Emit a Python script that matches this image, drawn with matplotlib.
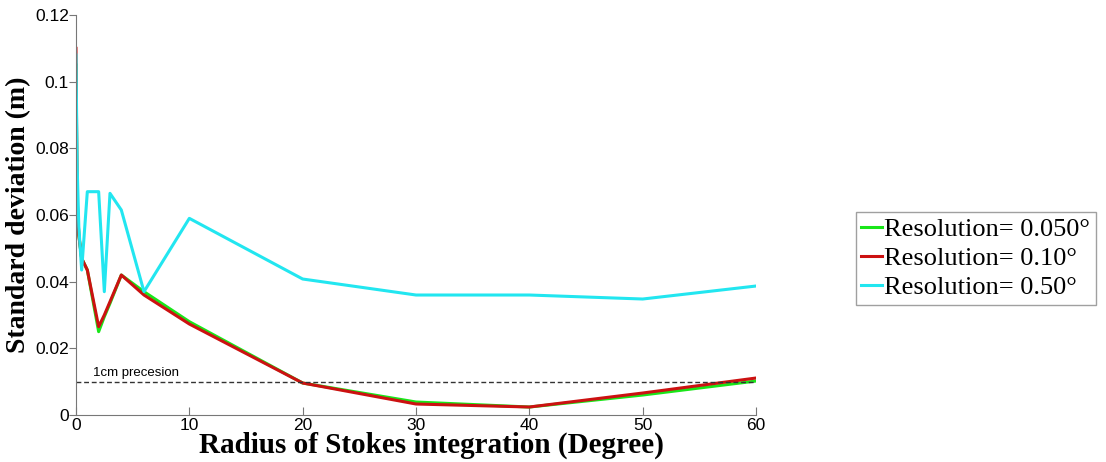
import matplotlib.pyplot as plt

# radius of Stokes integration (degree)
radius = [0, 0.1, 0.25, 0.5, 1, 2, 2.5, 3, 4, 6, 10, 20, 30, 40, 50, 60]

# standard deviation (m) for each grid resolution
std_005 = [0.105, 0.064, 0.054, 0.047, 0.0435, 0.025, 0.0295, 0.0335, 0.042, 0.037,
           0.028, 0.0096, 0.0039, 0.0024, 0.0060, 0.0102]
std_010 = [0.110, 0.065, 0.054, 0.047, 0.0435, 0.0265, 0.030, 0.034, 0.042, 0.036,
           0.0273, 0.0096, 0.0033, 0.0024, 0.0066, 0.0111]
std_050 = [0.108, 0.075, 0.0565, 0.0435, 0.067, 0.067, 0.037, 0.0665, 0.0615, 0.037,
           0.059, 0.0408, 0.036, 0.036, 0.0348, 0.0387]

labels = ['Resolution= 0.050°', 'Resolution= 0.10°', 'Resolution= 0.50°']
colors = ['#19e619', '#cc1111', '#22e6f0']

fig = plt.figure(figsize=(11.06, 4.62), dpi=100)
ax = fig.add_axes([0.0687, 0.1017, 0.6149, 0.8658])

for y, lab, c in zip([std_005, std_010, std_050], labels, colors):
    ax.plot(radius, y, color=c, linewidth=2.2, label=lab)

ax.axhline(0.01, color='#333333', linestyle='--', linewidth=1.0, dashes=(3.5, 2))
ax.text(1.5, 0.0117, '1cm precesion', fontsize=9.5, family='Liberation Sans')

ax.set_xlim(0, 60)
ax.set_ylim(0, 0.12)
ax.set_xticks([0, 10, 20, 30, 40, 50, 60])
ax.set_yticks([0, 0.02, 0.04, 0.06, 0.08, 0.1, 0.12])
ax.set_yticklabels(['0', '0.02', '0.04', '0.06', '0.08', '0.1', '0.12'])

for s in ['top', 'right']:
    ax.spines[s].set_visible(False)
for s in ['left', 'bottom']:
    ax.spines[s].set_color('#777777')

ax.tick_params(axis='x', direction='in', length=6, color='#777777', labelsize=12.5, pad=2)
ax.tick_params(axis='y', direction='out', length=5, color='#777777', labelsize=12.5, pad=0)
for t in ax.get_xticklabels() + ax.get_yticklabels():
    t.set_family('Liberation Sans')

ax.set_xlabel('Radius of Stokes integration (Degree)', family='Liberation Serif',
              fontweight='bold', fontsize=21, labelpad=-1)
ax.xaxis.label.set_x(0.523)
ax.set_ylabel('Standard deviation (m)', family='Liberation Serif',
              fontweight='bold', fontsize=20, labelpad=3)

leg = ax.legend(loc='upper left', bbox_to_anchor=(856 / 1106, 1 - 212 / 462),
                bbox_transform=fig.transFigure, handlelength=0.8,
                handletextpad=0.08, borderpad=0.2, labelspacing=0.22, fancybox=False,
                prop={'family': 'Liberation Serif', 'size': 19}, borderaxespad=0)
leg.get_frame().set_edgecolor('#888888')
leg.get_frame().set_linewidth(1.0)

fig.savefig('out.png', dpi=100)
